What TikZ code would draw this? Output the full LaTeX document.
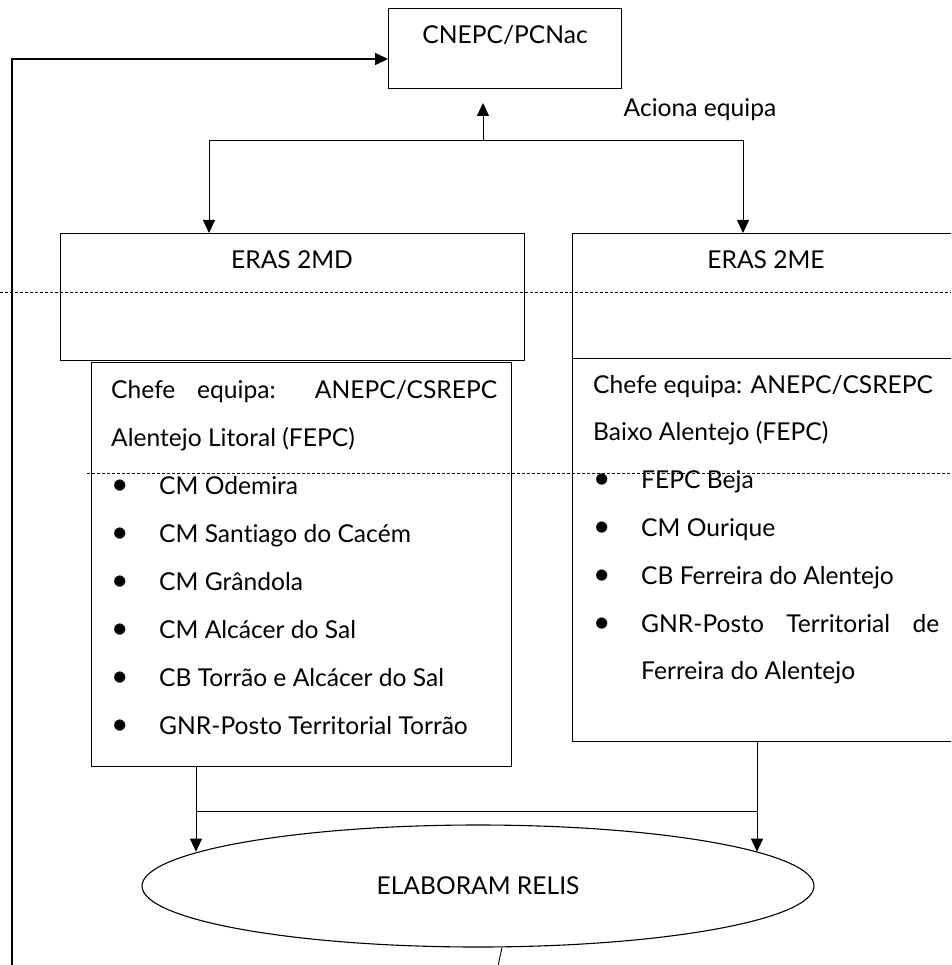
\documentclass[tikz,border=0pt]{standalone}
\usepackage{fontspec}
\setmainfont[Ligatures=NoCommon]{Lato}
\usetikzlibrary{arrows.meta,shapes.geometric}
\newcommand\mybul{\makebox[48pt][l]{\raisebox{0pt}{\fontsize{30}{30}\selectfont\textbullet}}}
\begin{document}
\begin{tikzpicture}[x=1pt,y=-1pt,
  box/.style={draw,line width=0.9pt,inner sep=0,outer sep=0,anchor=north west},
  txt/.style={inner sep=0,font=\fontsize{24.6}{28}\selectfont},
  arr/.style={line width=0.9pt,-{Triangle[width=12pt,length=13pt]}},
  ln/.style={line width=0.9pt},
  dsh/.style={line width=0.6pt,dash pattern=on 3pt off 2pt}]
\useasboundingbox (0,0) rectangle (951,965);
\clip (0,0) rectangle (951,965);

% boxes
\node[box,minimum width=233pt,minimum height=80pt] (cnepc) at (388,8) {};
\node[box,minimum width=464pt,minimum height=127pt] (b2md) at (60,233) {};
\node[box,minimum width=390pt,minimum height=125pt] (b2me) at (572,233) {};
\node[box,minimum width=420pt,minimum height=404pt] (chl) at (91,362) {};
\node[box,minimum width=390pt,minimum height=383pt] (chr) at (572,358) {};
\node[draw,ellipse,line width=1.1pt,minimum width=672pt,minimum height=122pt,inner sep=0,font=\fontsize{24.6}{28}\selectfont] (el) at (478,886) {ELABORAM RELIS};

% texts
\node[txt] (tcn) at (505,35) {CNEPC/PCNac};
\node[txt] (tac) at (700,110) {Aciona equipa};
\node[txt] (t2md) at (292,260) {ERAS 2MD};
\node[txt] (t2me) at (766,260) {ERAS 2ME};

\node[txt,anchor=base west] (l1) at (111,398) {\makebox[386pt][s]{Chefe equipa: ANEPC/CSREPC}};
\node[txt,anchor=base west] (l2) at (111,446.1) {Alentejo Litoral (FEPC)};
\node[txt,anchor=base west] (l3) at (111,494.2) {\mybul CM Odemira};
\node[txt,anchor=base west] (l4) at (111,542.3) {\mybul CM Santiago do Cacém};
\node[txt,anchor=base west] (l5) at (111,590.4) {\mybul CM Grândola};
\node[txt,anchor=base west] (l6) at (111,638.5) {\mybul CM Alcácer do Sal};
\node[txt,anchor=base west] (l7) at (111,686.6) {\mybul CB Torrão e Alcácer do Sal};
\node[txt,anchor=base west] (l8) at (111,734.7) {\mybul GNR-Posto Territorial Torrão};

\node[txt,anchor=base west] (r1) at (593,393) {Chefe equipa: ANEPC/CSREPC};
\node[txt,anchor=base west] (r2) at (593,440.8) {Baixo Alentejo (FEPC)};
\node[txt,anchor=base west] (r3) at (593,488.6) {\mybul FEPC Beja};
\node[txt,anchor=base west] (r4) at (593,536.4) {\mybul CM Ourique};
\node[txt,anchor=base west] (r5) at (593,584.2) {\mybul CB Ferreira do Alentejo};
\node[txt,anchor=base west] (r6) at (593,632) {\mybul\makebox[298pt][s]{GNR-Posto Territorial de}};
\node[txt,anchor=base west] (r7) at (641,679.8) {Ferreira do Alentejo};

% dashed lines
\draw[dsh] (0,292) -- (951,292);
\draw[dsh] (87,473) -- (951,473);

% top connectors
\coordinate (j0) at (483,140);
\coordinate (j1) at (209,140);
\coordinate (j2) at (743,140);
\draw[ln] (j1) -- (j2);
\draw[arr] (j1) -- (j1 |- b2md.north);
\draw[arr] (j2) -- (j2 |- b2me.north);
\draw[arr,shorten >=15pt] (j0) -- (j0 |- cnepc.south);

% bottom connectors
\coordinate (k1) at (196,811);
\coordinate (k2) at (757,811);
\draw[ln] (k1 |- chl.south) -- (k1) -- (k2) -- (k2 |- chr.south);
\draw[arr] (k1) -- (k1 |- el.173);
\draw[arr] (k2) -- (k2 |- el.7);

% feedback
\coordinate (fb) at (12,975);
\coordinate (fb2) at (496,975);
\draw[ln] ([xshift=24pt]el.south) -- (fb2);
\draw[arr,line width=1.6pt] (fb) |- ([yshift=-11pt]cnepc.west);
\end{tikzpicture}
\end{document}
